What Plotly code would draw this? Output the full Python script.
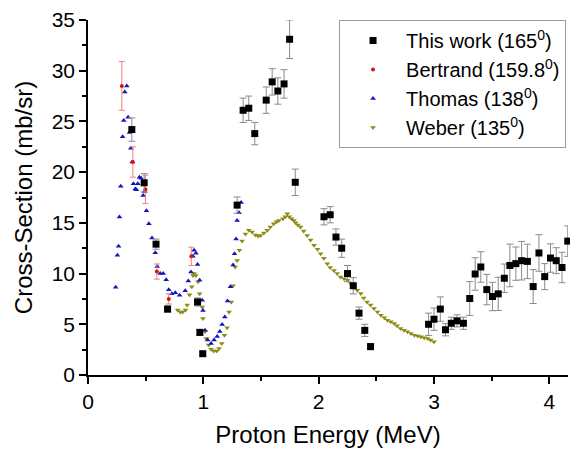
import plotly.graph_objects as go

# This work (165 deg)
work_x = [0.38, 0.487, 0.59, 0.69, 0.95, 0.97, 0.995, 1.293, 1.345, 1.394, 1.446, 1.545, 1.597,
          1.646, 1.70, 1.748, 1.797, 2.046, 2.10, 2.15, 2.20, 2.25, 2.30, 2.35, 2.40, 2.45,
          2.953, 3.0, 3.055, 3.10, 3.15, 3.20, 3.255, 3.31, 3.357, 3.406, 3.458, 3.507, 3.557,
          3.61, 3.658, 3.71, 3.76, 3.81, 3.86, 3.91, 3.96, 4.01, 4.06, 4.11, 4.16]
work_y = [24.2, 18.95, 12.9, 6.5, 7.2, 4.2, 2.1, 16.75, 26.1, 26.3, 23.8, 27.1, 28.9,
          28.0, 28.7, 33.1, 19.0, 15.6, 15.8, 13.6, 12.5, 10.0, 8.8, 6.1, 4.4, 2.8,
          5.0, 5.5, 6.5, 4.46, 5.1, 5.34, 5.1, 7.54, 9.96, 10.65, 8.42, 7.74, 8.0,
          9.54, 10.8, 10.98, 11.27, 11.2, 8.72, 12.03, 9.7, 11.53, 11.27, 10.6, 13.2]
work_err = [1.15, 0.9, 0.5, 0.3, 0.4, 0.3, 0.2, 0.8, 1.2, 1.2, 1.1, 1.3, 1.3,
            1.3, 1.4, 1.9, 1.3, 0.8, 0.8, 0.8, 0.9, 0.8, 0.8, 0.6, 0.6, 0.3,
            1.1, 1.1, 1.2, 0.6, 0.6, 0.6, 0.6, 1.67, 1.6, 1.5, 1.5, 1.4, 1.64,
            1.4, 2.1, 1.64, 1.9, 1.7, 1.67, 1.8, 1.28, 1.4, 1.28, 1.5, 1.5]

# Bertrand (159.8 deg)
bert_x = [0.293, 0.389, 0.498, 0.597, 0.70, 0.896]
bert_y = [28.5, 21.0, 18.3, 10.2, 7.5, 11.7]
bert_err = [2.4, 1.5, 1.4, 0.75, 0.5, 0.9]

# Thomas (138 deg)
thom_x = [0.24, 0.255, 0.265, 0.273, 0.284, 0.30, 0.31, 0.319, 0.336, 0.348, 0.36, 0.371,
          0.383, 0.394, 0.41, 0.42, 0.432, 0.446, 0.46, 0.478, 0.49, 0.507, 0.528, 0.555,
          0.583, 0.60, 0.626, 0.652, 0.678, 0.70, 0.727, 0.757, 0.794, 0.843, 0.87, 0.893,
          0.91, 0.92, 0.936, 0.95, 0.968, 0.99, 0.997, 1.015, 1.037, 1.067, 1.093, 1.12,
          1.143, 1.163, 1.186, 1.21, 1.235, 1.258, 1.27, 1.284, 1.293, 1.31, 1.328]
thom_y = [8.65, 11.8, 12.7, 15.57, 18.6, 23.5, 25.1, 27.9, 28.5, 25.4, 23.9, 22.35,
          21.0, 18.85, 18.35, 18.26, 18.85, 19.5, 19.4, 17.7, 18.1, 16.2, 14.9, 13.5,
          12.06, 10.7, 10.0, 10.0, 9.4, 8.4, 8.0, 8.1, 7.86, 8.3, 9.27, 10.16,
          11.7, 12.3, 12.0, 10.9, 9.34, 7.37, 6.36, 4.42, 3.44, 3.1, 3.44, 3.8,
          4.3, 4.98, 5.73, 7.3, 8.7, 10.85, 11.96, 13.4, 15.24, 16.0, 17.0]

# Weber (135 deg)
web_x = [0.777, 0.80, 0.82, 0.845, 0.86, 0.88, 0.90, 0.91, 0.92, 0.935, 0.954, 0.968, 0.99,
         0.997, 1.015, 1.026, 1.046, 1.067, 1.09, 1.116, 1.136, 1.16, 1.183, 1.206, 1.223,
         1.243, 1.258, 1.276, 1.293, 1.313, 1.336, 1.365, 1.394, 1.423, 1.452, 1.475, 1.496,
         1.525, 1.554, 1.58, 1.61, 1.635, 1.655, 1.69, 1.71, 1.728, 1.745, 1.765, 1.785, 1.80,
         1.82, 1.843, 1.87, 1.90, 1.93, 1.96, 1.99, 2.017, 2.045, 2.075, 2.10, 2.133, 2.16,
         2.19, 2.22, 2.25, 2.28, 2.307, 2.335, 2.365, 2.39, 2.42, 2.45, 2.48, 2.51, 2.54,
         2.57, 2.597, 2.625, 2.655, 2.68, 2.71, 2.74, 2.77, 2.80, 2.83, 2.86, 2.887, 2.915,
         2.945, 2.97, 3.0]
web_y = [6.4, 6.2, 6.2, 6.4, 6.9, 7.9, 8.7, 9.8, 10.0, 9.8, 9.2, 8.0, 6.7,
         5.57, 4.3, 3.6, 2.95, 2.53, 2.36, 2.36, 2.62, 3.1, 3.93, 4.66, 6.2,
         7.2, 8.8, 10.65, 11.3, 12.3, 13.2, 13.9, 14.26, 14.1, 13.8, 13.7, 13.76,
         14.0, 14.26, 14.6, 14.9, 15.1, 15.24, 15.4, 15.6, 15.9, 15.6, 15.4, 15.24, 15.0,
         14.8, 14.58, 14.2, 13.76, 13.3, 12.8, 12.4, 11.96, 11.5, 10.98, 10.6, 10.3, 10.0,
         9.66, 9.5, 9.34, 9.0, 8.68, 8.35, 8.03, 7.6, 7.2, 6.9, 6.55, 6.2, 5.9,
         5.65, 5.4, 5.25, 5.08, 4.85, 4.59, 4.42, 4.26, 4.1, 3.93, 3.85, 3.77, 3.68,
         3.6, 3.45, 3.27]

names = ["This work (165<sup>0</sup>)", "Bertrand (159.8<sup>0</sup>)",
         "Thomas (138<sup>0</sup>)", "Weber (135<sup>0</sup>)"]

fig = go.Figure()
fig.add_trace(go.Scatter(x=web_x, y=web_y, mode="markers", name=names[3], legendrank=4,
                         marker=dict(symbol="triangle-down", size=5, color="#8c8c14"),
                         cliponaxis=False))
fig.add_trace(go.Scatter(x=thom_x, y=thom_y, mode="markers", name=names[2], legendrank=3,
                         marker=dict(symbol="triangle-up", size=5, color="#1414c0"),
                         cliponaxis=False))
fig.add_trace(go.Scatter(x=bert_x, y=bert_y, mode="markers", name=names[1], legendrank=2,
                         marker=dict(symbol="circle", size=4, color="#e01010"),
                         error_y=dict(type="data", array=bert_err, color="#ee8080",
                                      thickness=1, width=3),
                         cliponaxis=False))
fig.add_trace(go.Scatter(x=work_x, y=work_y, mode="markers", name=names[0], legendrank=1,
                         marker=dict(symbol="square", size=7, color="black"),
                         error_y=dict(type="data", array=work_err, color="#8a8a8a",
                                      thickness=1, width=3.5),
                         cliponaxis=False))

axis_common = dict(showgrid=False, zeroline=False, showline=True, linecolor="black",
                   linewidth=1.5, ticks="outside", ticklen=7, tickwidth=1.5,
                   tickcolor="black", tickfont=dict(size=21, color="black"))

fig.update_layout(
    width=570, height=463,
    margin=dict(l=88, r=2, t=20, b=88),
    paper_bgcolor="white", plot_bgcolor="white",
    font=dict(family="Liberation Sans, Arial, sans-serif", color="black"),
    xaxis=dict(range=[0, 4.162], dtick=1, tick0=0,
               minor=dict(ticks="outside", ticklen=4, dtick=0.5, tickwidth=1.5,
                          tickcolor="black", showgrid=False),
               title=dict(text="Proton Energy (MeV)", font=dict(size=24), standoff=14),
               **axis_common),
    yaxis=dict(range=[0, 35], dtick=5, tick0=0,
               minor=dict(ticks="outside", ticklen=4, dtick=2.5, tickwidth=1.5,
                          tickcolor="black", showgrid=False),
               title=dict(text="Cross-Section (mb/sr)", font=dict(size=24), standoff=12),
               **axis_common),
    legend=dict(x=0.523, y=1.0, xanchor="left", yanchor="top",
                bgcolor="white", bordercolor="#9a9a9a", borderwidth=1,
                font=dict(size=20), itemwidth=56),
    showlegend=True,
)

fig.write_html("out.html")
